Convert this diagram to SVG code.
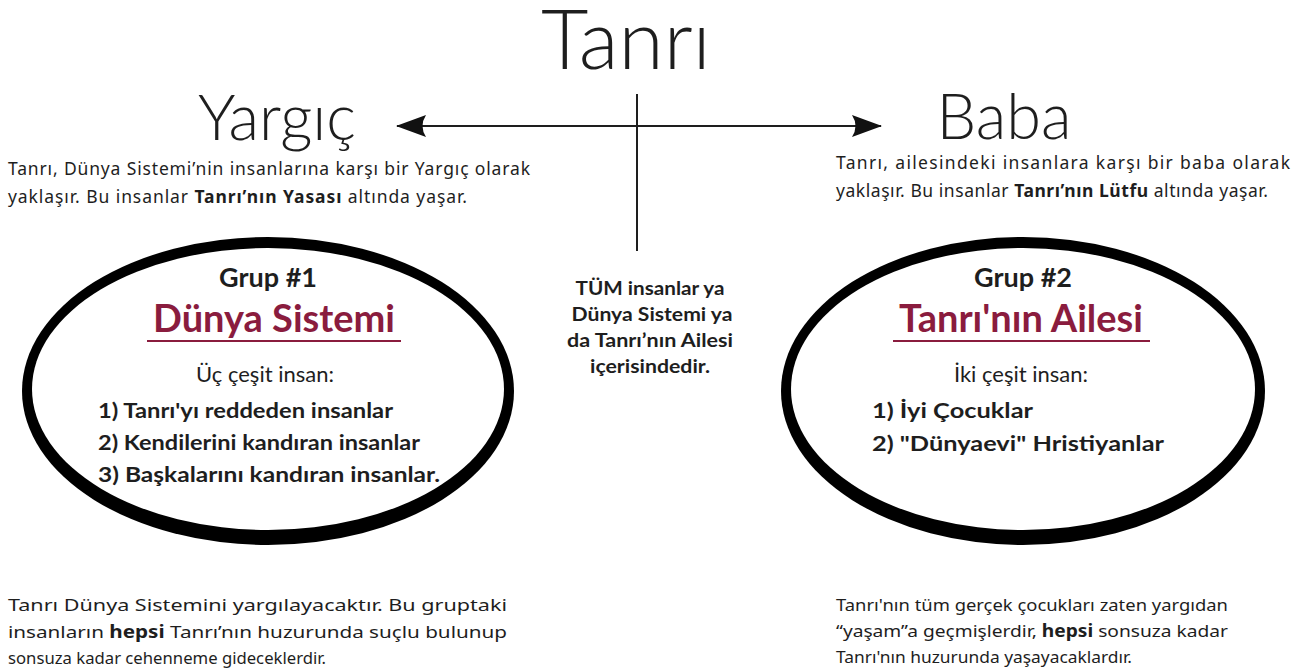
<svg xmlns="http://www.w3.org/2000/svg" width="1305" height="670" viewBox="0 0 1305 670">
<style>
text{font-family:Lato,"Noto Sans","DejaVu Sans",sans-serif;fill:#1e1e1e}
.light{font-weight:300}
.para{font-family:"Noto Sans",Lato,sans-serif;font-size:17.5px}
.low{font-family:"Noto Sans",Lato,sans-serif;font-size:17px}
.b{font-weight:700}
.grp{font-size:27px;font-weight:700;text-anchor:middle}
.ttl{font-size:38px;font-weight:700;fill:#8a1c3e;text-anchor:middle}
.sub{font-size:22px;text-anchor:middle}
.li{font-size:21px;font-weight:700}
.ctr{font-size:19.5px;font-weight:700;text-anchor:middle}
.conn{stroke:#1e1e1e;stroke-width:2;fill:none}
.ul{stroke:#8a1c3e;stroke-width:2.2}
</style>
<defs>
<marker id="ah" viewBox="0 0 30 22" refX="29" refY="11" markerWidth="30" markerHeight="22" markerUnits="userSpaceOnUse" orient="auto-start-reverse">
<path d="M0,0 L30,11 L0,22 Q7,11 0,0 Z" fill="#111"/>
</marker>
</defs>
<rect width="1305" height="670" fill="#fff"/>

<g id="tanri">
<text x="626" y="69" class="light" font-size="82" text-anchor="middle">Tanrı</text>
</g>

<g id="connectors">
<line class="conn" x1="637" y1="94" x2="637" y2="251"/>
<line class="conn" x1="637" y1="126" x2="397" y2="126" marker-end="url(#ah)"/>
<line class="conn" x1="637" y1="126" x2="881" y2="126" marker-end="url(#ah)"/>
</g>

<g id="yargic">
<text x="277" y="140" class="light" font-size="63" text-anchor="middle">Yargıç</text>
<text x="8" y="175" class="para" textLength="522" lengthAdjust="spacing">Tanrı, Dünya Sistemi’nin insanlarına karşı bir Yargıç olarak</text>
<text x="8" y="203" class="para" textLength="459" lengthAdjust="spacing">yaklaşır. Bu insanlar <tspan class="b">Tanrı’nın Yasası</tspan> altında yaşar.</text>
</g>

<g id="baba">
<text x="1004" y="139" class="light" font-size="63" text-anchor="middle">Baba</text>
<text x="836" y="169" class="para" textLength="454" lengthAdjust="spacing">Tanrı, ailesindeki insanlara karşı bir baba olarak</text>
<text x="836" y="197" class="para" textLength="432" lengthAdjust="spacing">yaklaşır. Bu insanlar <tspan class="b">Tanrı’nın Lütfu</tspan> altında yaşar.</text>
</g>

<g id="grup1">
<ellipse cx="268" cy="391" rx="246" ry="154" fill="#000"/>
<ellipse cx="268" cy="389" rx="236" ry="141" fill="#fff"/>
<text x="268" y="287" class="grp">Grup #1</text>
<text x="274" y="332" class="ttl">Dünya Sistemi</text>
<line class="ul" x1="147" y1="341" x2="401" y2="341"/>
<text x="265" y="382" class="sub">Üç çeşit insan:</text>
<text x="98" y="418" class="li" textLength="295" lengthAdjust="spacingAndGlyphs">1) Tanrı'yı reddeden insanlar</text>
<text x="98" y="450" class="li" textLength="322" lengthAdjust="spacingAndGlyphs">2) Kendilerini kandıran insanlar</text>
<text x="98" y="482" class="li" textLength="342" lengthAdjust="spacingAndGlyphs">3) Başkalarını kandıran insanlar.</text>
</g>

<g id="grup2">
<ellipse cx="1023" cy="391" rx="242" ry="154" fill="#000"/>
<ellipse cx="1023" cy="389" rx="232" ry="141" fill="#fff"/>
<text x="1023" y="287" class="grp">Grup #2</text>
<text x="1021" y="332" class="ttl">Tanrı'nın Ailesi</text>
<line class="ul" x1="893" y1="341" x2="1150" y2="341"/>
<text x="1021" y="382" class="sub">İki çeşit insan:</text>
<text x="872" y="418" class="li" textLength="161" lengthAdjust="spacingAndGlyphs">1) İyi Çocuklar</text>
<text x="872" y="451" class="li" textLength="292" lengthAdjust="spacingAndGlyphs">2) "Dünyaevi" Hristiyanlar</text>
</g>

<g id="tum-insanlar">
<text x="650" y="295" class="ctr" textLength="149" lengthAdjust="spacingAndGlyphs">TÜM insanlar ya</text>
<text x="652" y="321" class="ctr" textLength="161" lengthAdjust="spacingAndGlyphs">Dünya Sistemi ya</text>
<text x="650" y="347" class="ctr" textLength="166" lengthAdjust="spacingAndGlyphs">da Tanrı’nın Ailesi</text>
<text x="650" y="373" class="ctr" textLength="120" lengthAdjust="spacingAndGlyphs">içerisindedir.</text>
</g>

<g id="yargi-notu">
<text x="8" y="611" class="low" textLength="499" lengthAdjust="spacingAndGlyphs">Tanrı Dünya Sistemini yargılayacaktır. Bu gruptaki</text>
<text x="8" y="638" class="low" textLength="499" lengthAdjust="spacingAndGlyphs">insanların <tspan class="b">hepsi</tspan> Tanrı’nın huzurunda suçlu bulunup</text>
<text x="8" y="664" class="low" textLength="318" lengthAdjust="spacingAndGlyphs">sonsuza kadar cehenneme gideceklerdir.</text>
</g>

<g id="yasam-notu">
<text x="836" y="611" class="low" textLength="392" lengthAdjust="spacingAndGlyphs">Tanrı'nın tüm gerçek çocukları zaten yargıdan</text>
<text x="836" y="637" class="low" textLength="392" lengthAdjust="spacingAndGlyphs">“yaşam”a geçmişlerdir, <tspan class="b">hepsi</tspan> sonsuza kadar</text>
<text x="836" y="663" class="low" textLength="296" lengthAdjust="spacingAndGlyphs">Tanrı'nın huzurunda yaşayacaklardır.</text>
</g>
</svg>
